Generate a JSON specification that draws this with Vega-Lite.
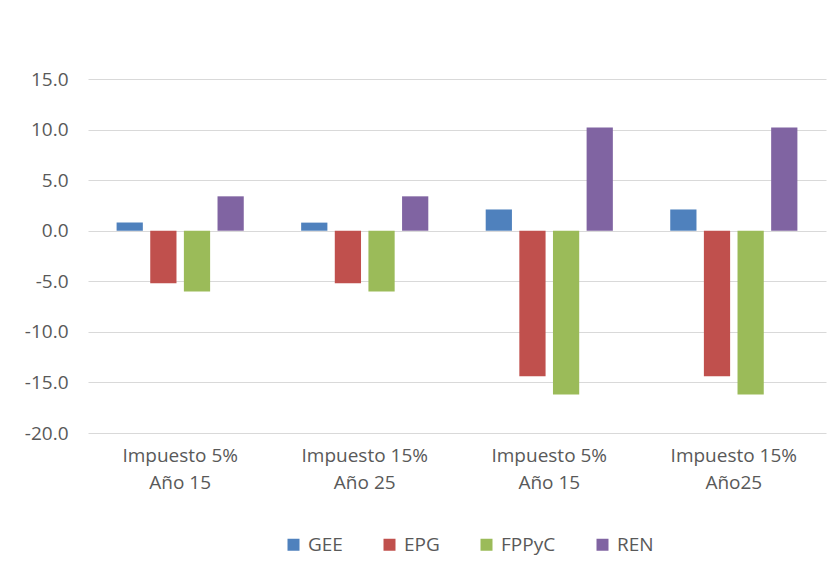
{
  "$schema": "https://vega.github.io/schema/vega-lite/v6.json",
  "width": 738,
  "height": 354,
  "autosize": {"type": "none"},
  "padding": {"left": 88, "top": 79, "right": 11, "bottom": 153},
  "background": "#ffffff",
  "data": {
    "values": [
      {"escenario": "1|Impuesto 5%|Año 15", "serie": "GEE", "valor": 0.8},
      {"escenario": "1|Impuesto 5%|Año 15", "serie": "EPG", "valor": -5.2},
      {"escenario": "1|Impuesto 5%|Año 15", "serie": "FPPyC", "valor": -6.0},
      {"escenario": "1|Impuesto 5%|Año 15", "serie": "REN", "valor": 3.4},
      {"escenario": "2|Impuesto 15%|Año 25", "serie": "GEE", "valor": 0.8},
      {"escenario": "2|Impuesto 15%|Año 25", "serie": "EPG", "valor": -5.2},
      {"escenario": "2|Impuesto 15%|Año 25", "serie": "FPPyC", "valor": -6.0},
      {"escenario": "2|Impuesto 15%|Año 25", "serie": "REN", "valor": 3.4},
      {"escenario": "3|Impuesto 5%|Año 15", "serie": "GEE", "valor": 2.1},
      {"escenario": "3|Impuesto 5%|Año 15", "serie": "EPG", "valor": -14.4},
      {"escenario": "3|Impuesto 5%|Año 15", "serie": "FPPyC", "valor": -16.2},
      {"escenario": "3|Impuesto 5%|Año 15", "serie": "REN", "valor": 10.2},
      {"escenario": "4|Impuesto 15%|Año25", "serie": "GEE", "valor": 2.1},
      {"escenario": "4|Impuesto 15%|Año25", "serie": "EPG", "valor": -14.4},
      {"escenario": "4|Impuesto 15%|Año25", "serie": "FPPyC", "valor": -16.2},
      {"escenario": "4|Impuesto 15%|Año25", "serie": "REN", "valor": 10.2}
    ]
  },
  "mark": {"type": "bar"},
  "encoding": {
    "x": {
      "field": "escenario",
      "type": "nominal",
      "sort": null,
      "scale": {"paddingInner": 0.311, "paddingOuter": 0.155},
      "axis": {
        "title": null,
        "labelAngle": 0,
        "labelExpr": "slice(split(datum.label, '|'), 1)",
        "labelFont": "Open Sans",
        "labelFontSize": 19,
        "labelColor": "#595959",
        "labelLineHeight": 27,
        "labelPadding": 13,
        "ticks": false,
        "domain": false,
        "grid": false
      }
    },
    "xOffset": {
      "field": "serie",
      "type": "nominal",
      "sort": ["GEE", "EPG", "FPPyC", "REN"],
      "scale": {"paddingInner": 0.22, "paddingOuter": 0}
    },
    "y": {
      "field": "valor",
      "type": "quantitative",
      "scale": {"domain": [-20, 15], "nice": false},
      "axis": {
        "title": null,
        "values": [-20, -15, -10, -5, 0, 5, 10, 15],
        "labelExpr": "replace(format(datum.value, '.1f'), '\u2212', '-')",
        "labelFont": "Open Sans",
        "labelFontSize": 19,
        "labelColor": "#595959",
        "labelPadding": 20,
        "ticks": false,
        "domain": false,
        "gridColor": "#d9d9d9",
        "gridWidth": 1
      }
    },
    "color": {
      "field": "serie",
      "type": "nominal",
      "sort": ["GEE", "EPG", "FPPyC", "REN"],
      "scale": {
        "domain": ["GEE", "EPG", "FPPyC", "REN"],
        "range": ["#4F81BD", "#C0504D", "#9BBB59", "#8064A2"]
      },
      "legend": {
        "title": null,
        "orient": "none",
        "direction": "horizontal",
        "legendX": 196,
        "legendY": 456,
        "symbolType": "square",
        "symbolSize": 144,
        "symbolStrokeWidth": 0,
        "labelFont": "Open Sans",
        "labelFontSize": 19,
        "labelColor": "#595959",
        "columnPadding": 37,
        "labelOffset": 5
      }
    }
  },
  "config": {
    "view": {"stroke": null}
  }
}
